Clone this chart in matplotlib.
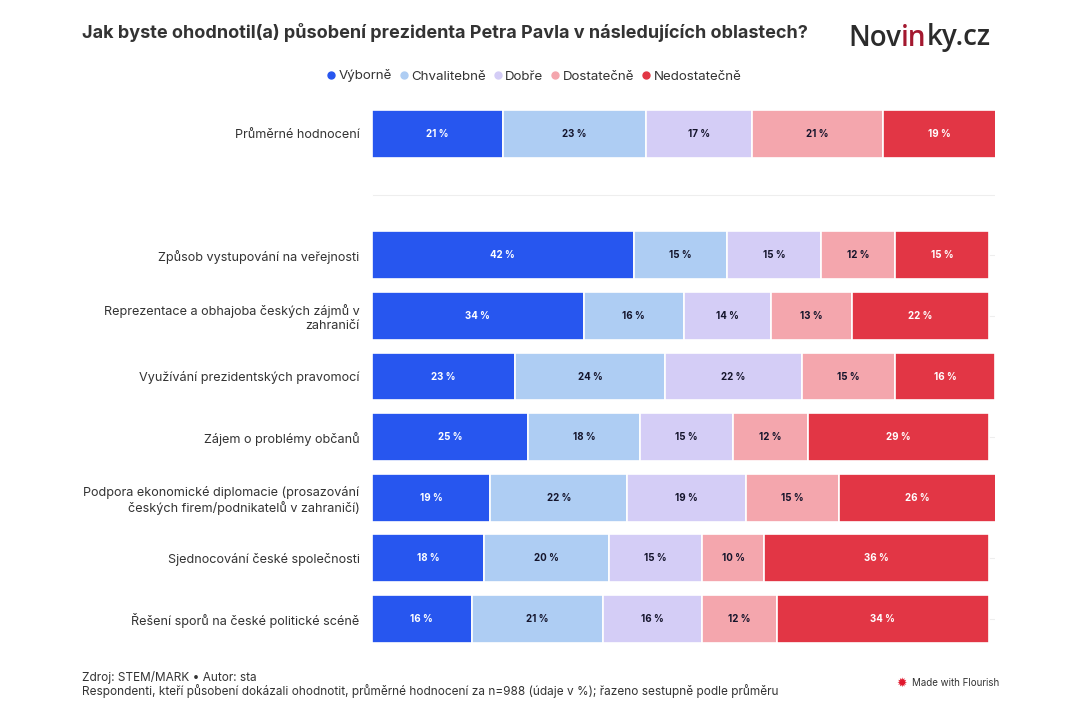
import matplotlib.pyplot as plt
import numpy as np

plt.rcParams['font.family'] = ['Inter', 'DejaVu Sans']

# Data
categories = [
    'Průměrné hodnocení',
    '',
    'Způsob vystupování na veřejnosti',
    'Reprezentace a obhajoba českých zájmů v\nzahraničí',
    'Využívání prezidentských pravomocí',
    'Zájem o problémy občanů',
    'Podpora ekonomické diplomacie (prosazování\nčeských firem/podnikatelů v zahraničí)',
    'Sjednocování české společnosti',
    'Řešení sporů na české politické scéně',
]
series_names = ['Výborně', 'Chvalitebně', 'Dobře', 'Dostatečně', 'Nedostatečně']
vyborne = [21, 0, 42, 34, 23, 25, 19, 18, 16]
chvalitebne = [23, 0, 15, 16, 24, 18, 22, 20, 21]
dobre = [17, 0, 15, 14, 22, 15, 19, 15, 16]
dostatecne = [21, 0, 12, 13, 15, 12, 15, 10, 12]
nedostatecne = [19, 0, 15, 22, 16, 29, 26, 36, 34]

colors = ['#2756ef', '#aecdf3', '#d4cdf6', '#f4a6ad', '#e23645']
text_colors = ['white', '#14142b', '#14142b', '#14142b', 'white']

fig = plt.figure(figsize=(10.8, 7.2), dpi=100)
ax = fig.add_axes([372 / 1080, 1 - 649.4 / 720, 623 / 1080, 545.8 / 720])

y = np.arange(len(categories))
left = np.zeros(len(categories))
for name, vals, c, tc in zip(series_names, [vyborne, chvalitebne, dobre, dostatecne, nedostatecne],
                             colors, text_colors):
    vals = np.array(vals, dtype=float)
    ax.barh(y, vals, left=left, height=0.79, color=c, edgecolor='white', linewidth=1.2,
            label=name, zorder=3)
    for yi, (l, v) in enumerate(zip(left, vals)):
        if v > 0:
            xc = (l + min(l + v, 100)) / 2
            ax.text(xc, yi, f'{int(v)} %', ha='center', va='center', fontsize=7,
                    fontweight='bold', color=tc, zorder=4)
    left += vals

ax.set_xlim(0, 100)
ax.set_ylim(len(categories) - 0.5, -0.5)
ax.set_yticks(y)
ax.set_yticklabels(categories, fontsize=9.1, color='#333333', ha='right')
ax.tick_params(axis='y', length=0, pad=9)
ax.set_xticks([])
for s in ax.spines.values():
    s.set_visible(False)
ax.grid(axis='y', color='#eeeeee', linewidth=0.8, zorder=0)

# Title
fig.text(82 / 1080, 1 - 32 / 720, 'Jak byste ohodnotil(a) působení prezidenta Petra Pavla v následujících oblastech?',
         fontsize=13, fontweight='bold', color='#333333', va='center', ha='left')

# Legend
handles = [plt.Line2D([], [], marker='o', linestyle='', markersize=5, color=c) for c in colors]
fig.legend(handles, series_names, loc='center', bbox_to_anchor=(533 / 1080, 1 - 76 / 720), ncol=5,
           frameon=False, fontsize=9.6, handletextpad=0.05, columnspacing=0.4, handlelength=1.0,
           labelcolor='#333333')

# Logo
fig.canvas.draw()
renderer = fig.canvas.get_renderer()
x0 = 848
for part, col in [('Nov', '#2b2b2b'), ('in', '#a3182f'), ('ky.cz', '#2b2b2b')]:
    t = fig.text(x0 / 1080, 1 - 38 / 720, part, fontsize=20, fontweight='semibold', color=col,
                 va='center', ha='left', family=['Open Sans', 'DejaVu Sans'])
    bb = t.get_window_extent(renderer)
    x0 += bb.width

# Footer
fig.text(82 / 1080, 1 - 677 / 720, 'Zdroj: STEM/MARK • Autor: sta', fontsize=8.5, color='#333333',
         va='center', ha='left')
fig.text(82 / 1080, 1 - 691 / 720,
         'Respondenti, kteří působení dokázali ohodnotit, průměrné hodnocení za n=988 (údaje v %); řazeno sestupně podle průměru',
         fontsize=8.5, color='#333333', va='center', ha='left')
fig.text(902 / 1080, 1 - 683 / 720, '✹', fontsize=9, color='#e0182d', va='center', ha='center',
         family=['DejaVu Sans'])
fig.text(912 / 1080, 1 - 683 / 720, 'Made with Flourish', fontsize=7, color='#333333',
         va='center', ha='left')

fig.savefig('out.png', dpi=100)
